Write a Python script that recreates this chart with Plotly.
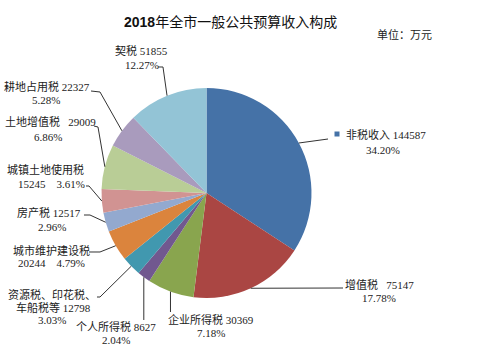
import math
import plotly.graph_objects as go

# ---- data ----
categories = ["非税收入", "增值税", "企业所得税", "个人所得税", "资源税、印花税、车船税等",
              "城市维护建设税", "房产税", "城镇土地使用税", "土地增值税", "耕地占用税", "契税"]
values = [144587, 75147, 30369, 8627, 12798, 20244, 12517, 15245, 29009, 22327, 51855]
percents = ["34.20%", "17.78%", "7.18%", "2.04%", "3.03%", "4.79%", "2.96%", "3.61%", "6.86%", "5.28%", "12.27%"]
title_text = "<b>2018</b>年全市一般公共预算收入构成"
unit_text = "单位：万元"

# ---- styles / layout ----
W, H = 482, 358
colors = ["#4572A7", "#AA4643", "#89A54E", "#71588F", "#4198AF", "#DB843D",
          "#93A9CF", "#D19392", "#B9CD96", "#A99BBD", "#93C4D6"]
CX, CY, R = 206.5, 193.0, 105.0  # pie centre / radius in pixels

def px(x):
    return x / W

def py(y):
    return 1 - y / H

# label lines: list of (text, x, y, xanchor) in pixels, per slice
label_lines = [
    [(f"{categories[0]} {values[0]}", 344, 134, "left"), (percents[0], 383, 150, "center")],
    [(f"{categories[1]}   {values[1]}", 379, 284, "center"), (percents[1], 379, 298, "center")],
    [(f"{categories[2]} {values[2]}", 211, 319, "center"), (percents[2], 211, 333, "center")],
    [(f"{categories[3]} {values[3]}", 116, 326, "center"), (percents[3], 116, 340, "center")],
    [("资源税、印花税、", 52, 294, "center"), (f"车船税等 {values[4]}", 53, 307, "center"),
     (percents[4], 52, 320, "center")],
    [(categories[5], 51, 250, "center"), (f"{values[5]}    {percents[5]}", 51, 263, "center")],
    [(f"{categories[6]} {values[6]}", 49, 213, "center"), (percents[6], 52, 227, "center")],
    [(categories[7], 45, 169, "center"), (f"{values[7]}    {percents[7]}", 51, 184, "center")],
    [(f"{categories[8]}   {values[8]}", 50, 122, "center"), (percents[8], 48, 137, "center")],
    [(f"{categories[9]} {values[9]}", 47, 86, "center"), (percents[9], 46, 100, "center")],
    [(f"{categories[10]} {values[10]}", 141, 50, "center"), (percents[10], 142, 65, "center")],
]
# leader line points after the slice edge point (pixels); None x => same x as edge
leader_pts = [
    [(328, 139)],
    [(343, 288)],
    [(None, 312)],
    [(None, 320)],
    [(100, 297), (97, 297)],
    [(100, 252), (89, 252)],
    [(90, 215), (84, 215)],
    [(89, 186), (86, 186)],
    [(98, 127), (94, 126)],
    [(100, 92), (91, 91)],
    [(163, 67), (158, 67)],
]

label_font = dict(family="Liberation Serif, Noto Sans CJK SC", size=11, color="#222222")

fig = go.Figure(go.Pie(
    labels=categories, values=values, sort=False, direction="clockwise", rotation=0,
    marker=dict(colors=colors, line=dict(width=0)), textinfo="none", hoverinfo="label+value+percent",
    domain=dict(x=[px(CX - R), px(CX + R)], y=[py(CY + R), py(CY - R)]),
    showlegend=False,
))

total = sum(values)
cum = 0
shapes = []
annotations = []
for i, v in enumerate(values):
    mid = (cum + v / 2) / total * 2 * math.pi
    cum += v
    ex = CX + R * math.sin(mid)
    ey = CY - R * math.cos(mid)
    pts = [(ex, ey)] + [((ex if x is None else x), y) for x, y in leader_pts[i]]
    path = "M " + " L ".join(f"{px(x):.5f},{py(y):.5f}" for x, y in pts)
    shapes.append(dict(type="path", xref="paper", yref="paper", path=path,
                       line=dict(color="#333333", width=1)))
    for text, x, y, anc in label_lines[i]:
        annotations.append(dict(text=text, x=px(x), y=py(y), xref="paper", yref="paper",
                                xanchor=anc, yanchor="middle", showarrow=False, font=label_font))

# legend key square before first label
shapes.append(dict(type="rect", xref="paper", yref="paper",
                   x0=px(334.5), x1=px(339.5), y0=py(136.5), y1=py(131.5),
                   fillcolor=colors[0], line=dict(width=0)))

annotations.append(dict(text=title_text, x=px(230), y=py(22), xref="paper", yref="paper",
                        xanchor="center", yanchor="middle", showarrow=False,
                        font=dict(family="Liberation Sans, Noto Sans CJK SC", size=14, color="#111111")))
annotations.append(dict(text=unit_text, x=px(404), y=py(35), xref="paper", yref="paper",
                        xanchor="center", yanchor="middle", showarrow=False,
                        font=dict(family="Liberation Serif, Noto Sans CJK SC", size=11, color="#222222")))

fig.update_layout(width=W, height=H, margin=dict(l=0, r=0, t=0, b=0),
                  paper_bgcolor="white", plot_bgcolor="white",
                  shapes=shapes, annotations=annotations)

fig.write_html("out.html", config={"displayModeBar": False},
               post_script="document.body.style.margin='0';document.body.style.overflow='hidden';")
